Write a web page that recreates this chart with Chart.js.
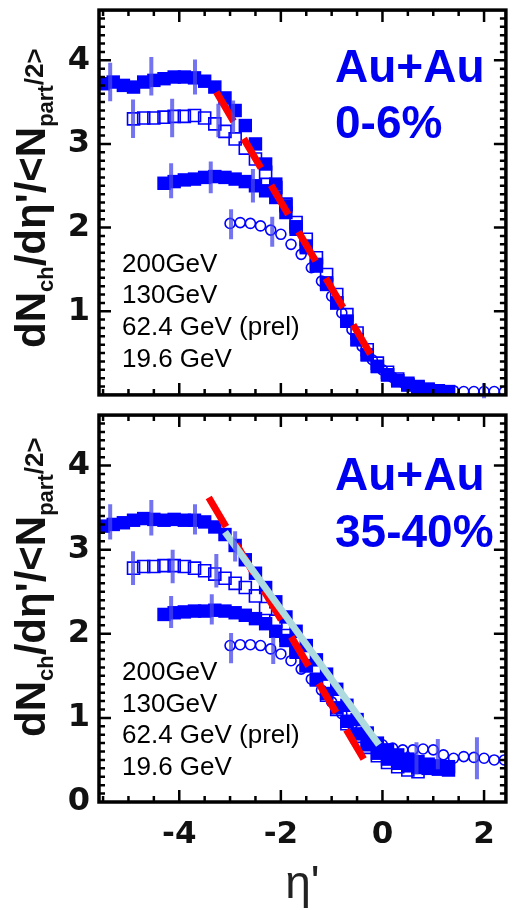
<!DOCTYPE html>
<html>
<head>
<meta charset="utf-8">
<script src="https://cdn.jsdelivr.net/npm/chart.js@4.4.1/dist/chart.umd.min.js"></script>
<style>
  html, body { margin: 0; padding: 0; background: #fff; }
  body { width: 516px; height: 910px; position: relative; overflow: hidden; }
  .panel { position: absolute; left: 0; width: 516px; }
  #top { top: 0; height: 405px; }
  #bottom { top: 405px; height: 505px; }
</style>
</head>
<body>
<div class="panel" id="top"><canvas id="chartTop"></canvas></div>
<div class="panel" id="bottom"><canvas id="chartBottom"></canvas></div>
<script>
// eta' bins per beam energy
const eta200 = [-5.5,-5.3,-5.1,-4.9,-4.7,-4.5,-4.3,-4.1,-3.9,-3.7,-3.5,-3.3,-3.1,-2.9,-2.7,-2.5,-2.3,-2.1,-1.9,-1.7,-1.5,-1.3,-1.1,-0.9,-0.7,-0.5,-0.3,-0.1,0.1,0.3,0.5,0.7,0.9,1.1,1.3];
const eta130 = [-4.9,-4.7,-4.5,-4.3,-4.1,-3.9,-3.7,-3.5,-3.3,-3.1,-2.9,-2.7,-2.5,-2.3,-2.1,-1.9,-1.7,-1.5,-1.3,-1.1,-0.9,-0.7,-0.5,-0.3,-0.1,0.1,0.3,0.5,0.7];
const eta62 = [-4.3,-4.1,-3.9,-3.7,-3.5,-3.3,-3.1,-2.9,-2.7,-2.5,-2.3,-2.1,-1.9,-1.7,-1.5,-1.3,-1.1,-0.9,-0.7,-0.5,-0.3,-0.1,0.1,0.3,0.5,0.7,0.9,1.1,1.3];
const eta19 = [-3.0,-2.8,-2.6,-2.4,-2.2,-2.0,-1.8,-1.6,-1.4,-1.2,-1.0,-0.8,-0.6,-0.4,-0.2,0.0,0.2,0.4,0.6,0.8,1.0,1.2,1.4,1.6,1.8,2.0,2.2,2.4];

// Au+Au 0-6%
const central200 = [3.72,3.74,3.70,3.68,3.74,3.76,3.78,3.80,3.80,3.79,3.75,3.68,3.55,3.40,3.22,3.00,2.76,2.52,2.26,2.01,1.78,1.56,1.34,1.10,0.88,0.66,0.48,0.34,0.24,0.17,0.12,0.09,0.07,0.05,0.04];
const central130 = [3.30,3.31,3.31,3.32,3.33,3.33,3.34,3.31,3.24,3.15,3.06,2.95,2.82,2.66,2.48,2.28,2.06,1.86,1.64,1.44,1.20,0.96,0.74,0.54,0.38,0.27,0.19,0.14,0.10];
const central62 = [2.53,2.55,2.57,2.58,2.60,2.61,2.60,2.58,2.55,2.50,2.44,2.36,2.18,1.98,1.76,1.54,1.32,1.10,0.88,0.66,0.48,0.34,0.24,0.17,0.12,0.08,0.06,0.04,0.03];
const central19 = [2.05,2.06,2.05,2.02,1.97,1.92,1.80,1.68,1.52,1.36,1.18,0.98,0.78,0.58,0.42,0.30,0.21,0.15,0.11,0.08,0.06,0.05,0.05,0.04,0.04,0.04,0.04,0.04];

// Au+Au 35-40%
const periph200 = [3.28,3.30,3.32,3.35,3.37,3.36,3.35,3.36,3.35,3.35,3.33,3.27,3.18,3.05,2.88,2.72,2.55,2.38,2.20,2.03,1.86,1.69,1.52,1.34,1.15,0.98,0.82,0.70,0.62,0.56,0.51,0.48,0.45,0.43,0.42];
const periph130 = [2.78,2.80,2.80,2.81,2.81,2.80,2.78,2.75,2.71,2.66,2.60,2.55,2.45,2.30,2.15,1.98,1.80,1.62,1.45,1.27,1.10,0.93,0.78,0.65,0.55,0.47,0.42,0.38,0.36];
const periph62 = [2.23,2.25,2.26,2.27,2.27,2.28,2.27,2.25,2.22,2.18,2.12,2.03,1.92,1.78,1.62,1.46,1.29,1.12,0.96,0.81,0.68,0.58,0.51,0.46,0.43,0.41,0.40,0.39,0.38];
const periph19 = [1.86,1.87,1.87,1.86,1.82,1.76,1.68,1.58,1.46,1.33,1.19,1.05,0.92,0.82,0.74,0.68,0.64,0.62,0.62,0.63,0.62,0.56,0.52,0.54,0.53,0.52,0.50,0.50];

// error bars: [eta', value, error]
const errCentral200 = [[-5.36,3.74,0.23],[-4.55,3.81,0.23],[-3.69,3.80,0.21],[-2.94,3.32,0.2]];
const errCentral130 = [[-4.91,3.30,0.23],[-4.14,3.31,0.23],[-3.23,3.28,0.2]];
const errCentral62 = [[-4.16,2.56,0.21],[-3.38,2.60,0.19],[-2.55,2.50,0.2]];
const errCentral19 = [[-2.98,2.04,0.18],[-2.17,1.95,0.18],[2.0,0.05,0.09]];
const errPeriph200 = [[-5.36,3.33,0.21],[-4.55,3.38,0.21],[-3.69,3.36,0.18],[-2.9,3.04,0.18]];
const errPeriph130 = [[-4.91,2.78,0.2],[-4.13,2.80,0.2],[-3.27,2.75,0.2]];
const errPeriph62 = [[-4.16,2.26,0.19],[-3.36,2.29,0.18],[0.67,0.52,0.19]];
const errPeriph19 = [[-2.98,1.83,0.18],[-2.15,1.80,0.16],[1.09,0.57,0.18],[1.86,0.52,0.25]];

// straight-line guides
const fitCentralX = [-3.27, -0.23];
const fitCentralY = [3.62, 0.48];
const fitPeriphX = [-3.42, -0.33];
const fitPeriphY = [3.62, 0.47];
const linePeriphX = [-3.1, -0.07];
const linePeriphY = [3.21, 0.68];

const legendLabels = ['200GeV', '130GeV', '62.4 GeV (prel)', '19.6 GeV'];
const xTicks = [-4, -2, 0, 2];

const BLUE = '#0000ff';
const pts = (xs, ys) => xs.map((x, i) => ({ x: x, y: ys[i] }));

function dataSets(y200, y130, y62, y19) {
    return [
        { data: pts(eta200, y200), pointStyle: 'rect', pointRadius: 9.5, backgroundColor: BLUE, borderColor: BLUE, borderWidth: 0, order: 6 },
        { data: pts(eta62, y62), pointStyle: 'rect', pointRadius: 9.5, backgroundColor: BLUE, borderColor: BLUE, borderWidth: 0, order: 5 },
        { data: pts(eta130, y130), pointStyle: 'rect', pointRadius: 8.5, backgroundColor: 'rgba(0,0,0,0)', borderColor: BLUE, borderWidth: 1.6, order: 4 },
        { data: pts(eta19, y19), pointStyle: 'circle', pointRadius: 5, backgroundColor: 'rgba(0,0,0,0)', borderColor: BLUE, borderWidth: 1.6, order: 3 }
    ];
}

function lineSet(xs, ys, color, dash) {
    return {
        data: pts(xs, ys), showLine: true, pointRadius: 0, borderColor: color,
        borderWidth: 7, borderDash: dash, order: dash.length ? 2 : 1
    };
}

// inward ticks + frame, ROOT style
const framePlugin = {
    id: 'frame',
    afterDatasetsDraw(chart) {
        const { ctx, chartArea: a, scales: { x, y } } = chart;
        ctx.save();
        ctx.strokeStyle = '#000';
        ctx.lineWidth = 2.5;
        ctx.beginPath();
        for (let k = -11; k <= 4; k++) {
            const px = x.getPixelForValue(k / 2);
            const len = k % 4 === 0 ? 12 : 6;
            ctx.moveTo(px, a.bottom); ctx.lineTo(px, a.bottom - len);
            ctx.moveTo(px, a.top); ctx.lineTo(px, a.top + len);
        }
        for (let k = 1; k <= 45; k++) {
            const py = y.getPixelForValue(k / 10);
            const len = k % 10 === 0 ? 12 : 6;
            ctx.moveTo(a.left, py); ctx.lineTo(a.left + len, py);
            ctx.moveTo(a.right, py); ctx.lineTo(a.right - len, py);
        }
        ctx.stroke();
        ctx.lineWidth = 3.5;
        ctx.strokeRect(a.left, a.top, a.right - a.left, a.bottom - a.top);
        ctx.restore();
    }
};

function errorPlugin(sets) {
    return {
        id: 'errbars',
        afterDatasetsDraw(chart) {
            const { ctx, scales: { x, y } } = chart;
            ctx.save();
            ctx.strokeStyle = 'rgba(70,70,235,0.75)';
            ctx.lineWidth = 4;
            ctx.beginPath();
            sets.forEach(set => set.forEach(([ex, ey, ee]) => {
                const px = x.getPixelForValue(ex);
                ctx.moveTo(px, y.getPixelForValue(ey + ee));
                ctx.lineTo(px, y.getPixelForValue(ey - ee));
            }));
            ctx.stroke();
            ctx.restore();
        }
    };
}

function textPlugin(opts) {
    return {
        id: 'texts',
        afterDraw(chart) {
            const ctx = chart.ctx;
            ctx.save();
            // y axis title, rotated
            ctx.translate(45, opts.titleStart);
            ctx.rotate(-Math.PI / 2);
            ctx.fillStyle = '#111';
            ctx.textBaseline = 'alphabetic';
            let cx = 0;
            const parts = [['dN', 42, 0], ['ch', 22, 8], ["/d\u03b7'/<N", 42, 0], ['part', 22, 8], ['/2>', 26, -2]];
            parts.forEach(([t, size, dy]) => {
                ctx.font = 'bold ' + size + 'px "Liberation Sans", Arial, sans-serif';
                ctx.fillText(t, cx, dy);
                cx += ctx.measureText(t).width;
            });
            ctx.restore();

            ctx.save();
            ctx.fillStyle = '#0000f0';
            ctx.font = 'bold 46px "Liberation Sans", Arial, sans-serif';
            ctx.fillText('Au+Au', 335, opts.headY[0]);
            ctx.fillText(opts.centrality, 335, opts.headY[1]);
            ctx.fillStyle = '#000';
            ctx.font = '26px "Liberation Sans", Arial, sans-serif';
            legendLabels.forEach((t, i) => ctx.fillText(t, 122, opts.legendY[i]));
            ctx.restore();
        }
    };
}

function makeChart(id, sets, lines, errs, opts) {
    return new Chart(document.getElementById(id), {
        type: 'scatter',
        data: { datasets: lines.concat(sets) },
        options: {
            responsive: true,
            maintainAspectRatio: false,
            animation: false,
            layout: { padding: { left: 0, right: 3, top: opts.padTop, bottom: opts.padBottom } },
            plugins: { legend: { display: false }, tooltip: { enabled: false } },
            scales: {
                x: {
                    type: 'linear', min: -5.58, max: 2.43,
                    display: opts.showX,
                    grid: { display: false, drawTicks: false },
                    border: { display: false },
                    afterBuildTicks: s => { s.ticks = xTicks.map(v => ({ value: v })); },
                    ticks: { padding: 14, color: '#111', font: { family: '"DejaVu Sans"', weight: 'bold', size: 31 } },
                    title: { display: true, text: "\u03b7'", color: '#222', padding: { top: 0, bottom: -3 }, font: { family: '"Liberation Sans"', size: 46 } },
                    afterFit: s => {
                        s.paddingLeft = 0; s.paddingRight = 0;
                        if (opts.showX) s.height = 108;
                    }
                },
                y: {
                    type: 'linear', min: 0, max: 4.6,
                    grid: { display: false, drawTicks: false },
                    border: { display: false },
                    afterBuildTicks: s => { s.ticks = opts.yTicks.map(v => ({ value: v })); },
                    ticks: { padding: 9, color: '#111', font: { family: '"DejaVu Sans"', weight: 'bold', size: 32 } },
                    afterFit: s => { s.width = 99; s.paddingTop = 0; s.paddingBottom = 0; }
                }
            }
        },
        plugins: [errorPlugin(errs), framePlugin, textPlugin(opts)]
    });
}

makeChart('chartTop',
    dataSets(central200, central130, central62, central19),
    [lineSet(fitCentralX, fitCentralY, '#ff0000', [34, 20])],
    [errCentral200, errCentral130, errCentral62, errCentral19],
    { padTop: 7, padBottom: 7, showX: false, yTicks: [1, 2, 3, 4], titleStart: 348,
      headY: [82, 138], centrality: '0-6%', legendY: [272, 303, 335, 367] });

makeChart('chartBottom',
    dataSets(periph200, periph130, periph62, periph19),
    [lineSet(linePeriphX, linePeriphY, '#aedbe0', []), lineSet(fitPeriphX, fitPeriphY, '#ff0000', [34, 20])],
    [errPeriph200, errPeriph130, errPeriph62, errPeriph19],
    { padTop: 6, padBottom: 0, showX: true, yTicks: [0, 1, 2, 3, 4], titleStart: 332,
      headY: [85, 142], centrality: '35-40%', legendY: [275, 307, 338, 370] });
</script>
</body>
</html>
